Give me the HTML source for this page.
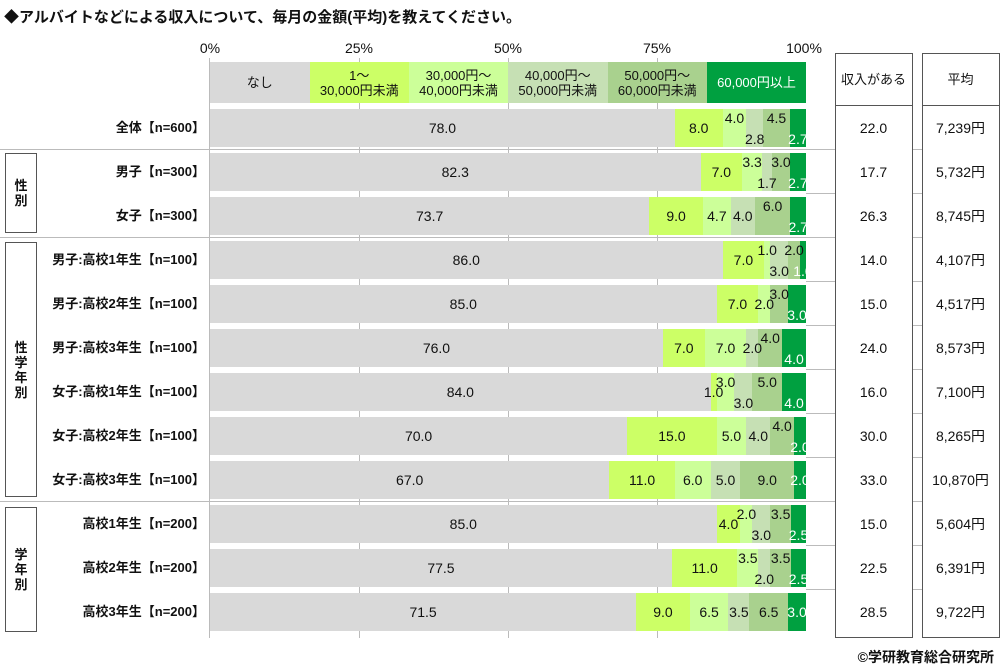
<!DOCTYPE html>
<html><head><meta charset="utf-8"><style>
*{margin:0;padding:0;box-sizing:border-box}
body{width:1000px;height:671px;background:#fff;position:relative;overflow:hidden;font-family:"Liberation Sans","Noto Sans CJK JP",sans-serif;color:#111}
.a{position:absolute}
.t{left:4px;top:6px;font-size:15px;font-weight:bold}
.pct{top:40px;font-size:14px;transform:translateX(-50%)}
.grid{top:58px;width:1px;height:580px;background:#bbb}
.bar{position:absolute;left:210px;width:596px;height:38px;display:flex}
.bar div{position:relative;height:38px}
.bar span{position:absolute;z-index:5;left:50%;transform:translateX(-50%);font-size:14px;line-height:16px;white-space:nowrap}
.c{top:11px}.tp{top:1px}.bt{top:22px}
.w{color:#fff}
.g0{background:#d9d9d9}.g1{background:#ccff66}.g2{background:#ccff99}.g3{background:#c6e0b4}.g4{background:#a9d18e}.g5{background:#00a040}
.hdr div{display:flex;align-items:center;justify-content:center;text-align:center;font-size:13px;line-height:15px}
.lab{right:795px;font-size:13px;font-weight:bold;white-space:nowrap;line-height:16px}
.box{border:1px solid #555;background:#fff}
.vt{font-size:13px;font-weight:bold;line-height:15px;text-align:center;display:flex;align-items:center;justify-content:center}
.rv{font-size:14px;text-align:center;width:77px;line-height:16px}
.hl{height:1px;background:#bbb;left:0;width:1000px}
</style></head><body>
<div class="a t">◆アルバイトなどによる収入について、毎月の金額(平均)を教えてください。</div>
<div class="a pct" style="left:210px">0%</div>
<div class="a pct" style="left:359px">25%</div>
<div class="a pct" style="left:508px">50%</div>
<div class="a pct" style="left:657px">75%</div>
<div class="a pct" style="left:804px">100%</div>
<div class="a grid" style="left:209px"></div>
<div class="a grid" style="left:359px"></div>
<div class="a grid" style="left:508px"></div>
<div class="a grid" style="left:657px"></div>

<div class="a hl" style="top:149px"></div>
<div class="a hl" style="top:237px"></div>
<div class="a hl" style="top:501px"></div>
<div class="a hl" style="top:193px;left:806px;width:194px"></div>
<div class="a hl" style="top:281px;left:806px;width:194px"></div>
<div class="a hl" style="top:325px;left:806px;width:194px"></div>
<div class="a hl" style="top:369px;left:806px;width:194px"></div>
<div class="a hl" style="top:413px;left:806px;width:194px"></div>
<div class="a hl" style="top:457px;left:806px;width:194px"></div>
<div class="a hl" style="top:545px;left:806px;width:194px"></div>
<div class="a hl" style="top:589px;left:806px;width:194px"></div>

<div class="bar hdr" style="top:62px;height:41px">
<div class="g0" style="width:16.7%;height:41px">なし</div>
<div class="g1" style="width:16.7%;height:41px">1～<br>30,000円未満</div>
<div class="g2" style="width:16.6%;height:41px">30,000円～<br>40,000円未満</div>
<div class="g3" style="width:16.7%;height:41px">40,000円～<br>50,000円未満</div>
<div class="g4" style="width:16.7%;height:41px">50,000円～<br>60,000円未満</div>
<div class="g5 w" style="width:16.6%;height:41px;color:#fff">60,000円以上</div>
</div>

<div class="bar" style="top:109px"><div class="g0" style="width:78%"><span class="c">78.0</span></div><div class="g1" style="width:8%"><span class="c">8.0</span></div><div class="g2" style="width:4%"><span class="tp">4.0</span></div><div class="g3" style="width:2.8%"><span class="bt">2.8</span></div><div class="g4" style="width:4.5%"><span class="tp">4.5</span></div><div class="g5" style="width:2.7%"><span class="bt w">2.7</span></div></div>
<div class="bar" style="top:153px"><div class="g0" style="width:82.3%"><span class="c">82.3</span></div><div class="g1" style="width:7%"><span class="c">7.0</span></div><div class="g2" style="width:3.3%"><span class="tp">3.3</span></div><div class="g3" style="width:1.7%"><span class="bt">1.7</span></div><div class="g4" style="width:3%"><span class="tp">3.0</span></div><div class="g5" style="width:2.7%"><span class="bt w">2.7</span></div></div>
<div class="bar" style="top:197px"><div class="g0" style="width:73.7%"><span class="c">73.7</span></div><div class="g1" style="width:9%"><span class="c">9.0</span></div><div class="g2" style="width:4.7%"><span class="c">4.7</span></div><div class="g3" style="width:4%"><span class="c">4.0</span></div><div class="g4" style="width:6%"><span class="tp">6.0</span></div><div class="g5" style="width:2.6%"><span class="bt w">2.7</span></div></div>
<div class="bar" style="top:241px"><div class="g0" style="width:86%"><span class="c">86.0</span></div><div class="g1" style="width:7%"><span class="c">7.0</span></div><div class="g2" style="width:1%"><span class="tp">1.0</span></div><div class="g3" style="width:3%"><span class="bt">3.0</span></div><div class="g4" style="width:2%"><span class="tp">2.0</span></div><div class="g5" style="width:1%"><span class="bt w">1.0</span></div></div>
<div class="bar" style="top:285px"><div class="g0" style="width:85%"><span class="c">85.0</span></div><div class="g1" style="width:7%"><span class="c">7.0</span></div><div class="g2" style="width:2%"><span class="c">2.0</span></div><div class="g4" style="width:3%"><span class="tp">3.0</span></div><div class="g5" style="width:3%"><span class="bt w">3.0</span></div></div>
<div class="bar" style="top:329px"><div class="g0" style="width:76%"><span class="c">76.0</span></div><div class="g1" style="width:7%"><span class="c">7.0</span></div><div class="g2" style="width:7%"><span class="c">7.0</span></div><div class="g3" style="width:2%"><span class="c">2.0</span></div><div class="g4" style="width:4%"><span class="tp">4.0</span></div><div class="g5" style="width:4%"><span class="bt w">4.0</span></div></div>
<div class="bar" style="top:373px"><div class="g0" style="width:84%"><span class="c">84.0</span></div><div class="g1" style="width:1%"><span class="c">1.0</span></div><div class="g2" style="width:3%"><span class="tp">3.0</span></div><div class="g3" style="width:3%"><span class="bt">3.0</span></div><div class="g4" style="width:5%"><span class="tp">5.0</span></div><div class="g5" style="width:4%"><span class="bt w">4.0</span></div></div>
<div class="bar" style="top:417px"><div class="g0" style="width:70%"><span class="c">70.0</span></div><div class="g1" style="width:15%"><span class="c">15.0</span></div><div class="g2" style="width:5%"><span class="c">5.0</span></div><div class="g3" style="width:4%"><span class="c">4.0</span></div><div class="g4" style="width:4%"><span class="tp">4.0</span></div><div class="g5" style="width:2%"><span class="bt w">2.0</span></div></div>
<div class="bar" style="top:461px"><div class="g0" style="width:67%"><span class="c">67.0</span></div><div class="g1" style="width:11%"><span class="c">11.0</span></div><div class="g2" style="width:6%"><span class="c">6.0</span></div><div class="g3" style="width:5%"><span class="c">5.0</span></div><div class="g4" style="width:9%"><span class="c">9.0</span></div><div class="g5" style="width:2%"><span class="c w">2.0</span></div></div>
<div class="bar" style="top:505px"><div class="g0" style="width:85%"><span class="c">85.0</span></div><div class="g1" style="width:4%"><span class="c">4.0</span></div><div class="g2" style="width:2%"><span class="tp">2.0</span></div><div class="g3" style="width:3%"><span class="bt">3.0</span></div><div class="g4" style="width:3.5%"><span class="tp">3.5</span></div><div class="g5" style="width:2.5%"><span class="bt w">2.5</span></div></div>
<div class="bar" style="top:549px"><div class="g0" style="width:77.5%"><span class="c">77.5</span></div><div class="g1" style="width:11%"><span class="c">11.0</span></div><div class="g2" style="width:3.5%"><span class="tp">3.5</span></div><div class="g3" style="width:2%"><span class="bt">2.0</span></div><div class="g4" style="width:3.5%"><span class="tp">3.5</span></div><div class="g5" style="width:2.5%"><span class="bt w">2.5</span></div></div>
<div class="bar" style="top:593px"><div class="g0" style="width:71.5%"><span class="c">71.5</span></div><div class="g1" style="width:9%"><span class="c">9.0</span></div><div class="g2" style="width:6.5%"><span class="c">6.5</span></div><div class="g3" style="width:3.5%"><span class="c">3.5</span></div><div class="g4" style="width:6.5%"><span class="c">6.5</span></div><div class="g5" style="width:3%"><span class="c w">3.0</span></div></div>

<div class="a lab" style="top:120px">全体【n=600】</div>
<div class="a lab" style="top:164px">男子【n=300】</div>
<div class="a lab" style="top:208px">女子【n=300】</div>
<div class="a lab" style="top:252px">男子:高校1年生【n=100】</div>
<div class="a lab" style="top:296px">男子:高校2年生【n=100】</div>
<div class="a lab" style="top:340px">男子:高校3年生【n=100】</div>
<div class="a lab" style="top:384px">女子:高校1年生【n=100】</div>
<div class="a lab" style="top:428px">女子:高校2年生【n=100】</div>
<div class="a lab" style="top:472px">女子:高校3年生【n=100】</div>
<div class="a lab" style="top:516px">高校1年生【n=200】</div>
<div class="a lab" style="top:560px">高校2年生【n=200】</div>
<div class="a lab" style="top:604px">高校3年生【n=200】</div>

<div class="a box vt" style="left:5px;top:153px;width:32px;height:80px">性<br>別</div>
<div class="a box vt" style="left:5px;top:242px;width:32px;height:255px">性<br>学<br>年<br>別</div>
<div class="a box vt" style="left:5px;top:507px;width:32px;height:125px">学<br>年<br>別</div>

<div class="a box" style="left:835px;top:53px;width:78px;height:585px"></div>
<div class="a box" style="left:922px;top:53px;width:78px;height:585px"></div>
<div class="a" style="left:835px;top:105px;width:165px;height:1px;background:#555"></div>
<div class="a" style="left:913px;top:105px;width:9px;height:1px;background:#fff"></div>
<div class="a rv" style="left:835px;top:72px;font-size:13px">収入がある</div>
<div class="a rv" style="left:922px;top:72px;font-size:13px">平均</div>

<div class="a rv" style="left:835px;top:120px">22.0</div><div class="a rv" style="left:922px;top:120px">7,239円</div>
<div class="a rv" style="left:835px;top:164px">17.7</div><div class="a rv" style="left:922px;top:164px">5,732円</div>
<div class="a rv" style="left:835px;top:208px">26.3</div><div class="a rv" style="left:922px;top:208px">8,745円</div>
<div class="a rv" style="left:835px;top:252px">14.0</div><div class="a rv" style="left:922px;top:252px">4,107円</div>
<div class="a rv" style="left:835px;top:296px">15.0</div><div class="a rv" style="left:922px;top:296px">4,517円</div>
<div class="a rv" style="left:835px;top:340px">24.0</div><div class="a rv" style="left:922px;top:340px">8,573円</div>
<div class="a rv" style="left:835px;top:384px">16.0</div><div class="a rv" style="left:922px;top:384px">7,100円</div>
<div class="a rv" style="left:835px;top:428px">30.0</div><div class="a rv" style="left:922px;top:428px">8,265円</div>
<div class="a rv" style="left:835px;top:472px">33.0</div><div class="a rv" style="left:922px;top:472px">10,870円</div>
<div class="a rv" style="left:835px;top:516px">15.0</div><div class="a rv" style="left:922px;top:516px">5,604円</div>
<div class="a rv" style="left:835px;top:560px">22.5</div><div class="a rv" style="left:922px;top:560px">6,391円</div>
<div class="a rv" style="left:835px;top:604px">28.5</div><div class="a rv" style="left:922px;top:604px">9,722円</div>

<div class="a" style="right:6px;top:647px;font-size:14px;font-weight:bold">©学研教育総合研究所</div>
</body></html>
